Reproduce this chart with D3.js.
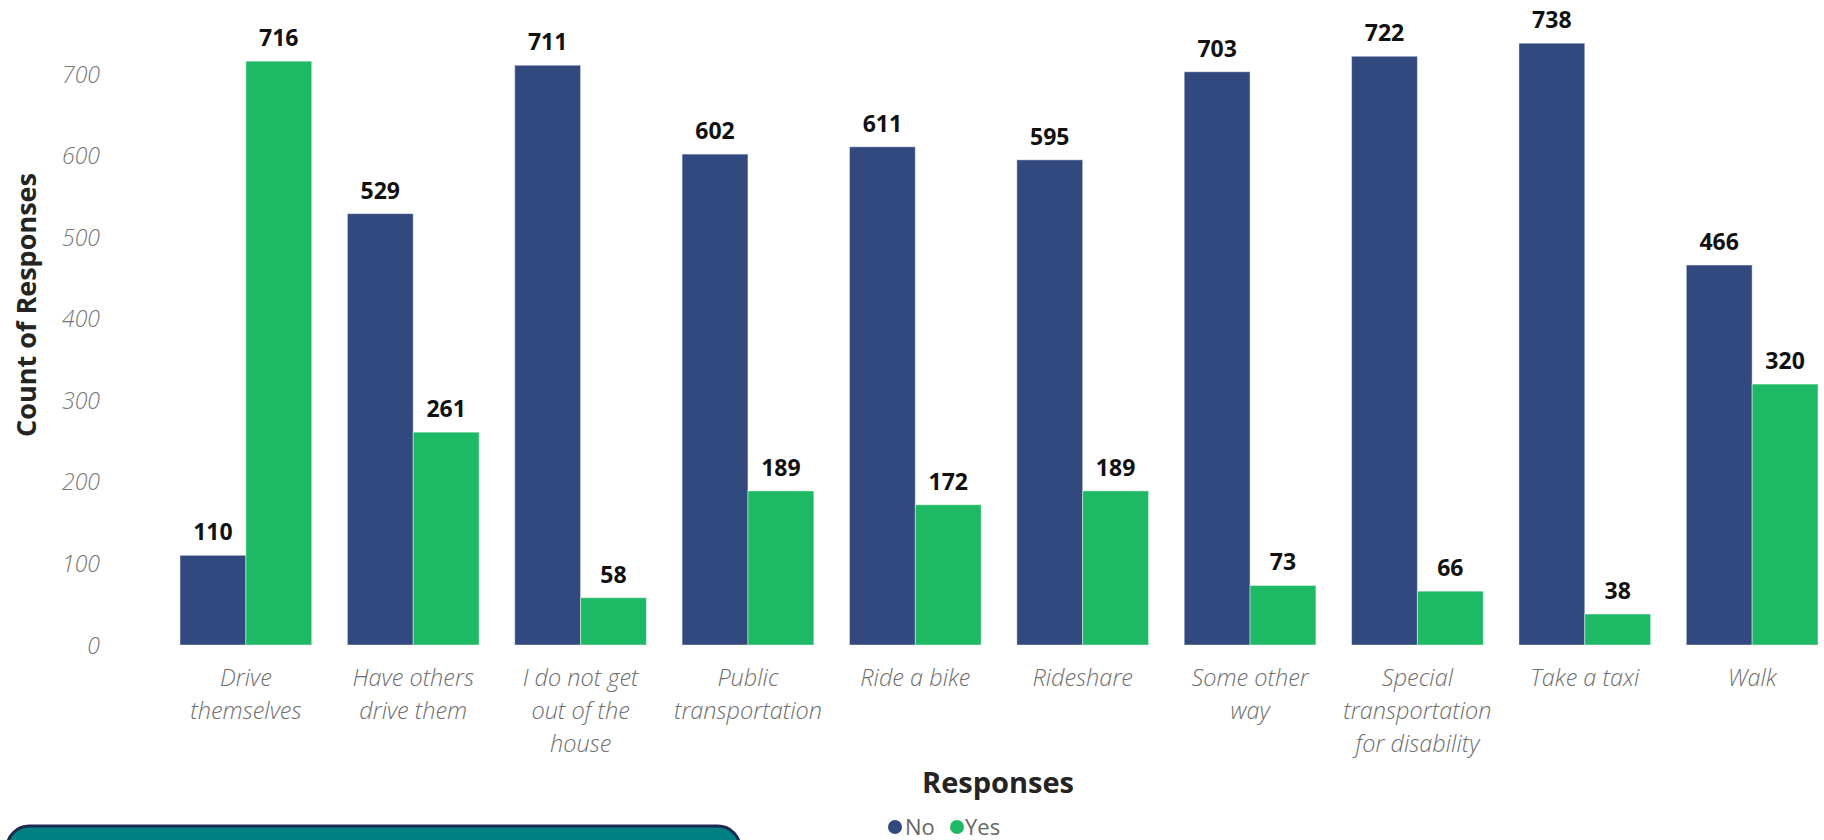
<!DOCTYPE html>
<html>
<head>
<meta charset="utf-8">
<script src="https://cdn.jsdelivr.net/npm/d3@7"></script>
<style>
  html, body { margin: 0; padding: 0; background: #fff; }
  svg { display: block; }
</style>
</head>
<body>
<svg id="chart" width="1824" height="840"></svg>
<script>
const categories = ["Drive themselves", "Have others drive them", "I do not get out of the house", "Public transportation", "Ride a bike", "Rideshare", "Some other way", "Special transportation for disability", "Take a taxi", "Walk"];
const categoryLabelLines = [["Drive", "themselves"], ["Have others", "drive them"], ["I do not get", "out of the", "house"], ["Public", "transportation"], ["Ride a bike"], ["Rideshare"], ["Some other", "way"], ["Special", "transportation", "for disability"], ["Take a taxi"], ["Walk"]];
const seriesNames = ["No", "Yes"];
const noValues = [110, 529, 711, 602, 611, 595, 703, 722, 738, 466];
const yesValues = [716, 261, 58, 189, 172, 189, 73, 66, 38, 320];
const yTicks = [0, 100, 200, 300, 400, 500, 600, 700];
const colors = ["#32497F", "#1DB964"];

const svg = d3.select("#chart");
const FONT = "'Open Sans', 'Segoe UI', sans-serif";

const x0 = d3.scaleBand().domain(categories).range([180, 1818]).paddingInner(0.213).paddingOuter(0);
const x1 = d3.scaleBand().domain(seriesNames).range([0, x0.bandwidth()]).padding(0);
const y = d3.scaleLinear().domain([0, 791]).range([645, 0]);
const color = d3.scaleOrdinal().domain(seriesNames).range(colors);

const data = categories.map((c, i) => ({cat: c, vals: [{s: "No", v: noValues[i]}, {s: "Yes", v: yesValues[i]}]}));

// Y axis
const yAxis = d3.axisLeft(y).tickValues(yTicks).tickSize(0).tickPadding(0).tickFormat(d3.format("d"));
const yg = svg.append("g").attr("transform", "translate(100,0)").call(yAxis);
yg.select(".domain").remove();
yg.selectAll("text")
  .attr("font-family", FONT).attr("font-size", 23).attr("font-style", "italic").attr("font-weight", 300)
  .attr("fill", "#767676").attr("text-anchor", "end").attr("dy", "0.35em");

// Bars
const groups = svg.append("g").selectAll("g").data(data).join("g")
  .attr("transform", d => `translate(${x0(d.cat)},0)`);
groups.selectAll("rect").data(d => d.vals).join("rect")
  .attr("x", d => x1(d.s)).attr("width", x1.bandwidth())
  .attr("y", d => y(d.v)).attr("height", d => y(0) - y(d.v))
  .attr("fill", d => color(d.s))
  .attr("stroke", "rgba(255,255,255,0.45)").attr("stroke-width", 1);
groups.selectAll("text").data(d => d.vals).join("text")
  .attr("x", d => x1(d.s) + x1.bandwidth() / 2).attr("y", d => y(d.v) - 15)
  .attr("text-anchor", "middle").attr("font-family", FONT).attr("font-weight", 700)
  .attr("font-size", 23).attr("fill", "#111").text(d => d.v);

// X axis labels
const xAxis = d3.axisBottom(x0).tickSize(0).tickPadding(0).tickFormat("");
const xg = svg.append("g").attr("transform", `translate(0,${y(0)})`).call(xAxis);
xg.select(".domain").remove();
xg.selectAll(".tick").each(function(d, i) {
  const t = d3.select(this).append("text")
    .attr("font-family", FONT).attr("font-size", 23.5).attr("font-style", "italic").attr("font-weight", 300)
    .attr("fill", "#6e6e6e").attr("text-anchor", "middle").attr("y", 41);
  categoryLabelLines[i].forEach((line, j) => {
    t.append("tspan").attr("x", 0).attr("dy", j === 0 ? 0 : 33).text(line);
  });
});

// Axis titles
svg.append("text").attr("x", 998).attr("y", 793).attr("text-anchor", "middle")
  .attr("font-family", FONT).attr("font-weight", 700).attr("font-size", 29).attr("fill", "#252423")
  .text("Responses");
svg.append("text").attr("transform", "translate(36,305) rotate(-90)").attr("text-anchor", "middle")
  .attr("font-family", FONT).attr("font-weight", 700).attr("font-size", 27).attr("fill", "#252423")
  .text("Count of Responses");

// Legend
const legendItems = [{s: "No", cx: 895, tx: 905}, {s: "Yes", cx: 957, tx: 965}];
const lg = svg.append("g");
legendItems.forEach(it => {
  lg.append("circle").attr("cx", it.cx).attr("cy", 827).attr("r", 7).attr("fill", color(it.s));
  lg.append("text").attr("x", it.tx).attr("y", 827).attr("dy", "0.35em")
    .attr("font-family", FONT).attr("font-size", 22).attr("fill", "#666").text(it.s);
});

// Teal box (bottom-left panel)
svg.append("rect").attr("x", 7).attr("y", 826).attr("width", 733).attr("height", 60)
  .attr("rx", 22).attr("fill", "#008080").attr("stroke", "#1c2a4d").attr("stroke-width", 3);
</script>
</body>
</html>
